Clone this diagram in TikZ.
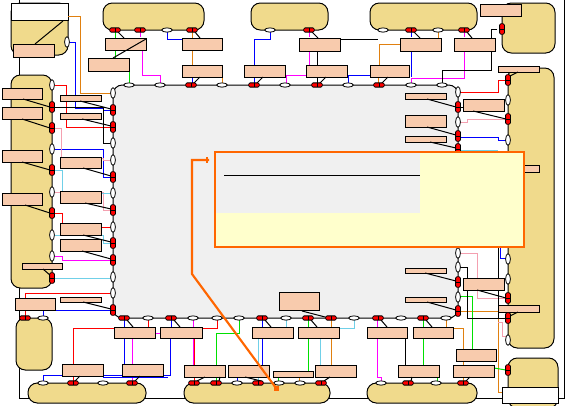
\documentclass[tikz,border=0pt]{standalone}
\usetikzlibrary{shapes.geometric}
\definecolor{tank}{HTML}{F0DA8C}
\definecolor{lbl}{HTML}{F8CBAD}
\definecolor{gry}{HTML}{F0F0F0}
\definecolor{yel}{HTML}{FFFFCC}
\definecolor{orn}{HTML}{FF6600}
\definecolor{ldo}{HTML}{E08010}
\definecolor{cya}{HTML}{70D0E8}
\definecolor{pnk}{HTML}{F4A0B0}
\definecolor{grn}{HTML}{00E000}
\definecolor{blu}{HTML}{0000FF}
\definecolor{mag}{HTML}{FF00FF}
\begin{document}
\begin{tikzpicture}[x=0.75pt,y=-0.75pt,line width=0.75pt,
  tankbox/.style={draw=black,fill=tank,rounded corners=7pt},
  lab/.style={draw=black,fill=lbl},
  wph/.style={ellipse,draw=black,fill=white,minimum width=8pt,minimum height=3.2pt,inner sep=0pt,line width=0.6pt},
  wpv/.style={ellipse,draw=black,fill=white,minimum width=3.6pt,minimum height=8pt,inner sep=0pt,line width=0.6pt},
  rvh/.style={rectangle,rounded corners=1pt,draw=black,fill=red,minimum width=8pt,minimum height=3.2pt,inner sep=0pt,line width=0.6pt,
    path picture={\draw[black,line width=0.5pt] (path picture bounding box.north) -- (path picture bounding box.south);}},
  rvv/.style={rectangle,rounded corners=1pt,draw=black,fill=red,minimum width=3.6pt,minimum height=8pt,inner sep=0pt,line width=0.6pt,
    path picture={\draw[black,line width=0.5pt] (path picture bounding box.west) -- (path picture bounding box.east);}},
  cl/.style={line width=0.75pt}]
\useasboundingbox (0,0) rectangle (569,405);
\clip (0,0) rectangle (569,405);
% ring line
\draw (19,-5) -- (19,398) -- (564,398) -- (564,-5);
% tanks
\draw[tankbox] (11,3) rectangle (68,55);
\draw[fill=white] (11,3) rectangle (68,20);
\draw[tankbox] (103,3) rectangle (204,30);
\draw[tankbox] (251,3) rectangle (328,30);
\draw[tankbox] (370,3) rectangle (477,30);
\draw[tankbox] (502,3) rectangle (555,53);
\draw[tankbox] (508,68) rectangle (554,348);
\draw[tankbox] (508,358) rectangle (558,408);
\draw[fill=white] (502,387) rectangle (558,403);
\draw[tankbox] (28,383) rectangle (146,403);
\draw[tankbox] (184,383) rectangle (330,403);
\draw[tankbox] (367,383) rectangle (477,403);
\draw[tankbox] (11,75) rectangle (52,288);
\draw[tankbox] (16,318) rectangle (52,370);
% central area
\draw[fill=gry,rounded corners=7pt] (113,85) rectangle (458,318);
% ---- coloured lines ----
% orange
\draw[ldo] (68,16) -- (80,16) -- (80,93) -- (111,93);
\draw[ldo] (192,32) -- (192,38) (192,50) -- (192,65);
\draw[ldo] (222,77) -- (222,83);
\draw[ldo] (400,44) -- (379,44) -- (379,65) (378,78) -- (378,83);
\draw[ldo] (438,32) -- (438,38);
\draw[ldo] (460,311) -- (498,311) -- (498,392) -- (502,392);
\draw[ldo] (453,328) -- (463,328) -- (463,381);
\draw[ldo] (446,320) -- (446,327);
\draw[ldo] (331,320) -- (331,327) (331,338) -- (331,365);
\draw[ldo] (299,377) -- (299,381);
% green
\draw[grn] (115,32) -- (115,38) (115,50) -- (115,71) -- (129,71) -- (129,83);
\draw[grn] (239,320) -- (239,333) -- (216,333) -- (216,365) (216,377) -- (216,381);
\draw[grn] (308,320) -- (308,327) (308,338) -- (308,371);
\draw[grn] (278,377) -- (278,381);
\draw[grn] (460,296) -- (472,296) -- (472,349);
\draw[grn] (423,320) -- (423,327) (423,338) -- (423,365);
\draw[grn] (437,377) -- (437,381);
\draw[grn] (494,368) -- (506,370);
% magenta
\draw[mag] (140,32) -- (140,37);
\draw[mag] (142,38) -- (142,75) -- (160,75) -- (160,83);
\draw[mag] (309,32) -- (309,37) (309,51) -- (309,65) (306,75) -- (286,75) -- (286,83);
\draw[mag] (464,32) -- (464,37) (464,51) -- (464,78) -- (411,78) -- (411,83);
\draw[mag] (55,256) -- (62,256) -- (62,260) -- (111,260);
\draw[mag] (193,320) -- (193,327) (193,338) -- (193,365);
\draw[mag] (155,333) -- (160,333);
\draw[mag] (132,338) -- (132,381);
\draw[mag] (377,320) -- (377,327) (377,338) -- (377,377) -- (381,377) -- (381,381);
% blue
\draw[blu] (69,42) -- (75,42) -- (75,108) -- (103,108) -- (103,110) -- (111,110);
\draw[blu] (167,32) -- (167,39) -- (182,39);
\draw[blu] (192,78) -- (192,83);
\draw[blu] (270,32) -- (270,39) -- (254,39) -- (254,65) (254,78) -- (254,83);
\draw[blu] (370,75) -- (348,75) -- (348,83);
\draw[blu] (411,32) -- (411,37) (411,51) -- (411,77);
\draw[blu] (506,140) -- (498,140) -- (498,137) -- (460,137);
\draw[blu] (55,149) -- (103,149) -- (103,177) -- (111,177);
\draw[blu] (43,316) -- (43,310) -- (111,310);
\draw[blu] (124,320) -- (124,327) (124,338) -- (124,364);
\draw[blu] (171,320) -- (171,327);
\draw[blu] (43,381) -- (43,375) -- (170,375) -- (170,338);
\draw[blu] (103,377) -- (168,377);
\draw[blu] (262,320) -- (262,327) (262,338) -- (262,365);
\draw[blu] (237,377) -- (237,381);
\draw[blu] (500,240) -- (500,258) -- (506,258);
% red
\draw[red] (55,85) -- (66,85) -- (66,127) -- (111,127);
\draw[red] (55,213) -- (62,213) -- (62,227) -- (111,227);
\draw[red] (25,298) -- (25,293) -- (111,293);
\draw[red] (25,310) -- (25,316);
\draw[red] (460,92) -- (498,92) -- (498,80) -- (505,80);
\draw[red] (148,320) -- (148,327);
\draw[red] (114,328) -- (73,328) -- (73,364) (73,377) -- (73,381);
\draw[red] (217,320) -- (217,328) -- (202,328);
\draw[red] (194,338) -- (194,365) (194,377) -- (194,381);
% pink
\draw[pnk] (55,128) -- (61,128) -- (61,158) -- (103,158) -- (103,160) -- (111,160);
\draw[pnk] (55,192) -- (103,192) -- (103,210) -- (111,210);
\draw[pnk] (460,122) -- (467,122) -- (467,119) -- (505,119);
\draw[pnk] (460,253) -- (477,253) -- (477,298) -- (505,298);
\draw[pnk] (498,322) -- (502,322) -- (502,336) -- (506,336);
% cyan
\draw[cya] (55,170) -- (62,170) -- (62,193) -- (111,193);
\draw[cya] (55,235) -- (103,235) -- (103,243) -- (111,243);
\draw[cya] (55,278) -- (111,278);
\draw[cya] (460,150) -- (498,150);
\draw[cya] (258,338) -- (258,365) (258,377) -- (258,381);
\draw[cya] (286,320) -- (286,327);
\draw[cya] (354,320) -- (354,328) -- (339,328);
\draw[cya] (320,338) -- (320,365);
% black connectors
\draw (55,107) -- (103,107) -- (103,143) -- (111,143);
\draw (317,51) -- (317,65) (317,78) -- (317,83);
\draw (340,39) -- (378,39);
\draw (497,29) -- (491,29) -- (491,70) -- (442,70) -- (442,83);
\draw (460,107) -- (463,107);
\draw (460,267) -- (467,267) -- (467,318) -- (506,318);
\draw (498,240) -- (498,318);
\draw (405,338) -- (405,365);
% ---- labels ----
\foreach \a/\b/\c/\d in {13/44/54/57, 2/88/42/99, 2/107/42/119, 2/150/42/162, 2/193/42/205, 22/263/62/269, 15/298/55/310,
  60/95/101/101, 60/113/101/119, 60/157/101/168, 60/191/101/203, 60/223/101/235, 60/239/101/251, 60/297/101/302,
  105/38/146/50, 88/58/129/71, 182/38/222/50, 182/65/222/77, 244/65/285/77, 299/38/340/51, 306/65/347/77, 370/65/409/77,
  400/38/441/51, 454/38/495/51, 480/4/521/16,
  498/66/539/72, 463/99/504/111, 405/93/446/99, 405/115/446/127, 405/136/446/142, 405/174/440/186, 490/165/539/172,
  405/268/446/273, 463/278/504/290, 405/297/446/302, 498/305/539/312, 456/349/496/361,
  114/327/155/338, 160/327/202/338, 252/327/293/338, 298/327/339/338, 367/327/407/338, 413/327/453/338, 279/292/319/310,
  62/364/103/376, 122/364/163/376, 184/365/225/377, 228/365/269/377, 273/371/313/377, 315/365/356/377, 398/365/439/377, 453/365/494/377}
  \draw[lab] (\a,\b) rectangle (\c,\d);
% ---- black diagonal stems ----
\foreach \a/\b/\c/\d in {23/99/50/107, 22/119/50/128, 22/162/50/170, 25/205/50/213, 43/269/51/276,
  80/101/111/109, 82/119/111/126, 83/168/111/176, 85/203/111/209, 83/235/111/242, 82/251/111/259, 83/302/111/309,
  63/21/35/44, 146/39/113/58,
  118/32/124/38, 195/32/200/38, 312/32/318/38, 414/32/420/38, 467/32/472/38,
  194/83/200/77, 257/83/263/77, 320/83/326/77, 382/83/388/77,
  427/99/456/107, 427/127/456/135, 430/142/456/148, 473/111/506/119, 518/72/510/76,
  425/273/456/281, 427/302/456/310, 477/290/506/298, 518/312/510/316,
  127/320/133/327, 174/320/180/327, 265/320/271/327, 311/320/317/327, 381/320/387/327, 426/320/432/327,
  80/376/75/381, 140/376/135/381, 205/377/197/381, 220/377/219/381, 245/377/261/381, 330/377/324/381, 412/377/411/381, 470/377/466/381,
  302/311/329/318}
  \draw (\a,\b) -- (\c,\d);
% ---- ports ----
\foreach \y in {85,149,192,235,256} \node[wpv] (lw\y) at (52,\y) {};
\foreach \y in {107,128,170,213,278} \node[rvv] (lr\y) at (52,\y) {};
\foreach \y in {93,143,160,193,227,277,293} \node[wpv] (glw\y) at (113,\y) {};
\foreach \y in {110,127,177,210,243,260,310} \node[rvv] (glr\y) at (113,\y) {};
\foreach \x in {129,160,222,285,348,411,442} \node[wph] (gtw\x) at (\x,85) {};
\foreach \x in {191,254,317,379} \node[rvh] (gtr\x) at (\x,85) {};
\foreach \y in {92,122,253,267,297} \node[wpv] (grw\y) at (458,\y) {};
\foreach \y in {107,136,149,282,311} \node[rvv] (grr\y) at (458,\y) {};
\foreach \x in {148,193,217,239,286,354,401,446} \node[wph] (gbw\x) at (\x,318) {};
\foreach \x in {124,171,262,308,331,378,423} \node[rvh] (gbr\x) at (\x,318) {};
\foreach \y in {100,140,259,279,340} \node[wpv] (rw\y) at (508,\y) {};
\foreach \y in {80,119,298,318} \node[rvv] (rr\y) at (508,\y) {};
\foreach \x in {167,270,383,438} \node[wph] (tw\x) at (\x,30) {};
\foreach \x in {115,140,192,309,411,464} \node[rvh] (tr\x) at (\x,30) {};
\node[rvv] (t5r) at (502,29) {};
\foreach \x in {43,103,237,279,300,381,436} \node[wph] (bw\x) at (\x,383) {};
\foreach \x in {73,132,194,216,258,321,408,463} \node[rvh] (br\x) at (\x,383) {};
\node[rvv] (t7r) at (508,370) {};
\node[rvh] (t12r) at (25,318) {};
\node[wph] (t12w) at (43,318) {};
\node[wpv] (t1w) at (67,42) {};
% ---- callout ----
\fill[gry] (215,152) rectangle (524,247);
\draw (224,175) -- (420,175);
\fill[yel] (420,152) rectangle (524,247);
\fill[yel] (215,213) rectangle (524,247);
\draw[orn,line width=1.5pt] (215,152) rectangle (524,247);
\draw[orn,line width=1.6pt] (209,160) -- (192,160) -- (192,274) -- (276,388);
\draw[orn,line width=1pt] (207,157) -- (207,163);
\fill[orn] (273.5,385.5) rectangle (278.5,390.5);
\end{tikzpicture}
\end{document}
